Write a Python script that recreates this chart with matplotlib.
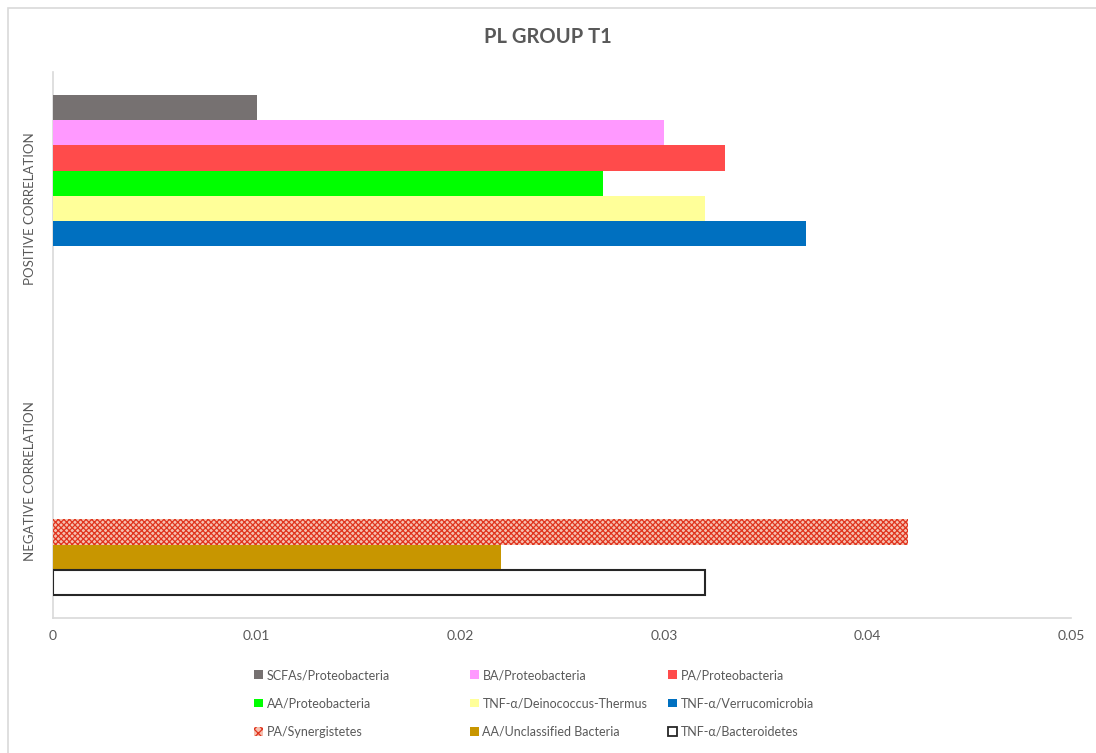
import matplotlib
matplotlib.use("Agg")
import matplotlib.pyplot as plt
from matplotlib.patches import Patch, Rectangle
import numpy as np

plt.rcParams['font.family'] = ['Lato', 'DejaVu Sans']
plt.rcParams['hatch.linewidth'] = 0.9

categories = ["POSITIVE CORRELATION", "NEGATIVE CORRELATION"]
series_names = ["SCFAs/Proteobacteria", "BA/Proteobacteria", "PA/Proteobacteria",
                "AA/Proteobacteria", "TNF-α/Deinococcus-Thermus", "TNF-α/Verrucomicrobia",
                "PA/Synergistetes", "AA/Unclassified Bacteria", "TNF-α/Bacteroidetes"]
# value per series, and which category it belongs to (0 positive, 1 negative)
series_values = [0.01, 0.03, 0.033, 0.027, 0.032, 0.037, 0.042, 0.022, 0.032]
series_category = [0, 0, 0, 0, 0, 0, 1, 1, 1]
xticks = [0, 0.01, 0.02, 0.03, 0.04, 0.05]
xticklabels = ["0", "0.01", "0.02", "0.03", "0.04", "0.05"]

face = ["#767171", "#FF99FF", "#FF4B4B", "#00FF00", "#FFFF99", "#0070C0",
        "#F5C0B0", "#C89600", "#FFFFFF"]
edge = ["none", "none", "none", "none", "none", "none", "#E0341E", "none", "#262626"]
hatch = [None, None, None, None, None, None, "xxxxxx", None, None]
lw = [0, 0, 0, 0, 0, 0, 0, 0, 1.5]

fig = plt.figure(figsize=(10.96, 7.53), dpi=100)
W, H = 1096, 753
ax = fig.add_axes([53 / W, 1 - 618 / H, (1071 - 53) / W, (618 - 72) / H])

n = len(series_names)
slot = 25.3 / 273.0
handles = []
for i in range(n):
    c = series_category[i]
    y = c + 0.5 + (i - (n - 1) / 2) * slot
    ax.barh(y, series_values[i], height=slot, color=face[i], edgecolor=edge[i],
            hatch=hatch[i], linewidth=lw[i], zorder=3)
    handles.append(Patch(facecolor=face[i], edgecolor=edge[i] if edge[i] != "none" else face[i],
                         hatch="xxxx" if hatch[i] else None,
                         linewidth=1.3 if i == 8 else 0, label=series_names[i]))

ax.set_ylim(2, 0)
ax.set_xlim(0, 0.05)
ax.set_yticks([0.5, 1.5])
ax.set_yticklabels(categories, rotation=90, va='center', fontsize=9.5, color="#595959")
ax.set_xticks(xticks)
ax.set_xticklabels(xticklabels, fontsize=10, color="#595959")
ax.tick_params(axis='both', length=0)
ax.tick_params(axis='x', pad=9)
ax.tick_params(axis='y', pad=12)
for s in ['top', 'right']:
    ax.spines[s].set_visible(False)
for s in ['left', 'bottom']:
    ax.spines[s].set_color("#D9D9D9")
    ax.spines[s].set_linewidth(1.2)

fig.text(548 / W, 1 - 37 / H, "PL GROUP T1", ha='center', va='center', fontsize=14.5,
         fontweight='bold', color="#595959")

# legend: three columns placed at the reference x positions, filled row-wise
col_x = [254, 470, 668]
for col in range(3):
    idx = [col, col + 3, col + 6]
    leg = fig.legend([handles[k] for k in idx], [series_names[k] for k in idx],
                     loc='upper left', bbox_to_anchor=(col_x[col] / W, 1 - 669 / H),
                     frameon=False, fontsize=9, handlelength=0.7, handleheight=0.7,
                     handletextpad=0.3, labelspacing=1.3, borderpad=0, borderaxespad=0)
    for t in leg.get_texts():
        t.set_color("#595959")

fig.patches.append(Rectangle((8 / W, -0.05), 1.2, 1.05 - 8 / H, transform=fig.transFigure,
                             fill=False, edgecolor="#D9D9D9", linewidth=1.2))

fig.savefig("out.png", dpi=100)
